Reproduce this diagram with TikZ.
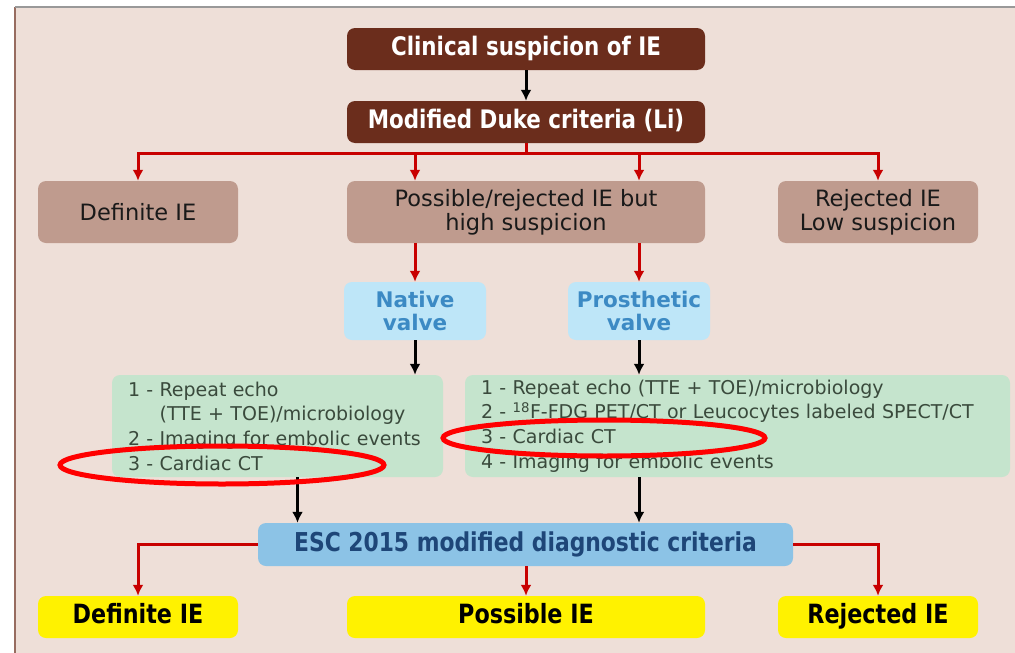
\documentclass[tikz,border=0pt]{standalone}
\usepackage{fontspec}
\setmainfont{DejaVu Sans}
\newfontfamily\headfont[FakeStretch=0.84]{DejaVu Sans}
\usetikzlibrary{arrows.meta}

\definecolor{panelbg}{HTML}{EEDFD8}
\definecolor{brownbox}{HTML}{6B2D1C}
\definecolor{rosebox}{HTML}{BF9B8E}
\definecolor{valvefill}{HTML}{BEE6F8}
\definecolor{valvetext}{HTML}{3C8AC4}
\definecolor{greenfill}{HTML}{C5E4CD}
\definecolor{greentext}{HTML}{3A4A3C}
\definecolor{escfill}{HTML}{8CC3E6}
\definecolor{esctext}{HTML}{1E4678}
\definecolor{flowred}{HTML}{C80000}

\tikzset{
  box/.style={rounded corners=8pt, inner sep=0pt, align=center},
  onerow/.style={text height=18pt, text depth=5pt},
  topbox/.style={box, onerow, fill=brownbox, text=white, minimum width=358pt, minimum height=42pt,
    font=\headfont\bfseries\fontsize{25.5}{28}\selectfont},
  midbox/.style={box, fill=rosebox, text=black!90, minimum height=62pt,
    font=\fontsize{22.5}{24}\selectfont},
  valvebox/.style={box, fill=valvefill, text=valvetext, minimum width=142pt, minimum height=58pt,
    font=\bfseries\fontsize{21.5}{23}\selectfont},
  greenbox/.style={box, fill=greenfill, text=greentext, inner xsep=16pt, minimum height=102pt,
    align=left, font=\fontsize{19}{24.7}\selectfont},
  escbox/.style={box, onerow, fill=escfill, text=esctext, minimum width=535pt, minimum height=43pt,
    font=\headfont\bfseries\fontsize{26}{28}\selectfont},
  yellowbox/.style={box, onerow, fill=yellow, text=black, minimum height=42pt,
    font=\headfont\bfseries\fontsize{26.5}{28}\selectfont},
  redarrow/.style={draw=flowred, line width=3pt, -{Latex[length=11pt,width=11pt]}},
  blackarrow/.style={draw=black, line width=3pt, -{Latex[length=11pt,width=11pt]}},
  ring/.style={draw=red, line width=5pt}
}

\begin{document}
\begin{tikzpicture}[x=1pt,y=-1pt]
  \useasboundingbox (0,0) rectangle (1015,653);
  \fill[white] (0,0) rectangle (1015,653);
  \fill[panelbg] (15,7) rectangle (1015,653);
  \draw[line width=2pt, color=brownbox!70] (15,653) -- (15,7);
  \draw[line width=2pt, color=black!40] (15,7) -- (1015,7);

  % top of the chart
  \node[topbox] (clinical) at (526,49) {Clinical suspicion of IE};
  \node[topbox] (duke) at (526,122) {Modified Duke criteria (Li)};
  \coordinate (split) at (526,153);

  % first outcome
  \node[midbox, minimum width=200pt] (definite) at (138,212) {Definite IE};
  \node[midbox, minimum width=358pt] (possible) at (526,212) {Possible/rejected IE but\\high suspicion};
  \node[midbox, minimum width=200pt] (rejected) at (878,212) {Rejected IE\\Low suspicion};

  \node[valvebox] (native) at (415,311) {Native\\valve};
  \node[valvebox] (prosthetic) at (639,311) {Prosthetic\\valve};

  \node[greenbox, text width=299pt] (greenL) at (277.5,426)
    {1 - Repeat echo\\\phantom{1 - }(TTE + TOE)/microbiology\\2 - Imaging for embolic events\\3 - Cardiac CT};
  \node[greenbox, text width=513pt] (greenR) at (737.5,426)
    {1 - Repeat echo (TTE + TOE)/microbiology\\2 - \textsuperscript{18}F-FDG PET/CT or Leucocytes labeled SPECT/CT\\3 - Cardiac CT\\4 - Imaging for embolic events};

  \node[escbox] (esc) at (525.5,544.5) {ESC 2015 modified diagnostic criteria};

  % final outcome
  \node[yellowbox, minimum width=200pt] (defIE) at (138,617) {Definite IE};
  \node[yellowbox, minimum width=358pt] (posIE) at (526,617) {Possible IE};
  \node[yellowbox, minimum width=200pt] (rejIE) at (878,617) {Rejected IE};

  % connectors
  \draw[blackarrow] (clinical) -- (duke);
  \draw[draw=flowred, line width=3pt] (duke.south) -- (split);
  \draw[redarrow] (split) -| (definite.north);
  \draw[redarrow] (split) -| (rejected.north);
  \draw[redarrow] (split) -| (native.north |- possible.north);
  \draw[redarrow] (split) -| (prosthetic.north |- possible.north);
  \draw[redarrow] (native.north |- possible.south) -- (native.north);
  \draw[redarrow] (prosthetic.north |- possible.south) -- (prosthetic.north);
  \draw[blackarrow] (native.south) -- (native.south |- greenL.north);
  \draw[blackarrow] (prosthetic.south) -- (prosthetic.south |- greenR.north);
  \draw[blackarrow] ([xshift=20pt]greenL.south) -- ([xshift=20pt]greenL.south |- esc.north);
  \draw[blackarrow] (prosthetic.south |- greenR.south) -- (prosthetic.south |- esc.north);
  \draw[redarrow] (esc.west) -| (defIE.north);
  \draw[redarrow] (esc.east) -| (rejIE.north);
  \draw[redarrow] (esc.south -| posIE.north) -- (posIE.north);

  % highlight rings
  \draw[ring] (222,465) ellipse [x radius=162pt, y radius=19pt];
  \draw[ring] (604,438) ellipse [x radius=161pt, y radius=18pt];
\end{tikzpicture}
\end{document}
